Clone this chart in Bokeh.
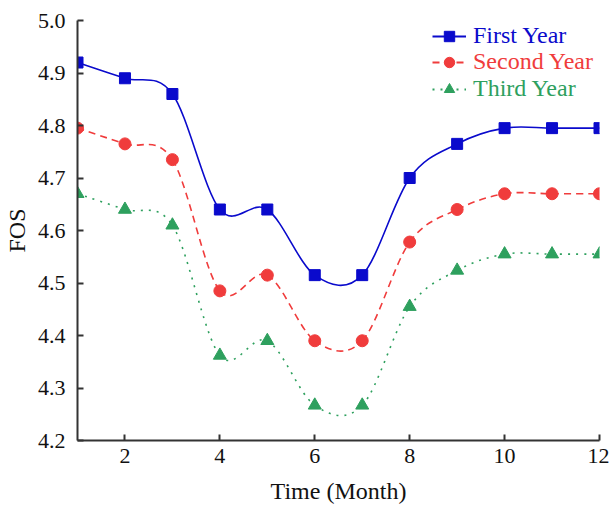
from bokeh.plotting import figure
from bokeh.models import Range1d, FixedTicker, Legend, LegendItem, NumeralTickFormatter
from bokeh.embed import file_html
from bokeh.resources import INLINE

months = [1, 2, 3, 4, 5, 6, 7, 8, 9, 10, 11, 12]
first_year = [4.92, 4.89, 4.86, 4.64, 4.64, 4.515, 4.515, 4.70, 4.765, 4.795, 4.795, 4.795]
second_year = [4.795, 4.765, 4.735, 4.485, 4.515, 4.39, 4.39, 4.578, 4.64, 4.67, 4.67, 4.67]
third_year = [4.67, 4.64, 4.61, 4.362, 4.39, 4.267, 4.267, 4.455, 4.524, 4.555, 4.555, 4.555]
series_names = ["First Year", "Second Year", "Third Year"]
x_ticks = [2, 4, 6, 8, 10, 12]
y_ticks = [4.2, 4.3, 4.4, 4.5, 4.6, 4.7, 4.8, 4.9, 5.0]

colors = ["#0A0ACC", "#F03C3C", "#2EA05E"]
dashes = ["solid", "7 5", "2 6"]
markers = ["square", "circle", "triangle"]
msizes = [11, 12, 13]

FONT = "Liberation Serif"

p = figure(width=609, height=512, output_backend="svg", toolbar_location=None,
           x_range=Range1d(1, 12), y_range=Range1d(4.2, 5.0),
           min_border_left=76, min_border_top=20, min_border_right=10, min_border_bottom=72)
p.outline_line_color = None
p.xgrid.visible = False
p.ygrid.visible = False

for ax in (p.xaxis[0], p.yaxis[0]):
    ax.axis_line_width = 2
    ax.axis_line_color = "#333333"
    ax.major_tick_line_color = "#333333"
    ax.major_tick_line_width = 2
    ax.major_tick_in = 6
    ax.major_tick_out = 0
    ax.minor_tick_line_color = None
    ax.major_label_text_font = FONT
    ax.major_label_text_font_size = "22px"
    ax.major_label_text_color = "#111111"
    ax.axis_label_text_font = FONT
    ax.axis_label_text_font_size = "24px"
    ax.axis_label_text_font_style = "normal"
    ax.axis_label_text_color = "#111111"

p.xaxis.ticker = FixedTicker(ticks=x_ticks)
p.yaxis.ticker = FixedTicker(ticks=y_ticks)
p.yaxis.formatter = NumeralTickFormatter(format="0.0")
p.xaxis.major_label_standoff = 8
p.yaxis.major_label_standoff = 12
p.xaxis.axis_label = "Time (Month)"
p.yaxis.axis_label = "FOS"
p.xaxis.axis_label_standoff = 12
p.yaxis.axis_label_standoff = 5


def bezier_segments(xs, ys):
    n = len(xs)
    out = dict(x0=[], y0=[], x1=[], y1=[], cx0=[], cy0=[], cx1=[], cy1=[])
    for i in range(n - 1):
        im = max(i - 1, 0)
        ip2 = min(i + 2, n - 1)
        out["x0"].append(xs[i]); out["y0"].append(ys[i])
        out["x1"].append(xs[i + 1]); out["y1"].append(ys[i + 1])
        out["cx0"].append(xs[i] + (xs[i + 1] - xs[im]) / 6.0)
        out["cy0"].append(ys[i] + (ys[i + 1] - ys[im]) / 6.0)
        out["cx1"].append(xs[i + 1] - (xs[ip2] - xs[i]) / 6.0)
        out["cy1"].append(ys[i + 1] - (ys[ip2] - ys[i]) / 6.0)
    return out


all_series = [first_year, second_year, third_year]
legend_rows_y = [391, 365, 338]
for k, ys in enumerate(all_series):
    seg = bezier_segments(months, ys)
    p.bezier(x0=seg["x0"], y0=seg["y0"], x1=seg["x1"], y1=seg["y1"],
             cx0=seg["cx0"], cy0=seg["cy0"], cx1=seg["cx1"], cy1=seg["cy1"],
             line_color=colors[k], line_width=1.6, line_dash=dashes[k])
    sc = p.scatter(months, ys, marker=markers[k], size=msizes[k],
                   fill_color=colors[k], line_color=colors[k])
    ln = p.line(months[:1], ys[:1], line_color=colors[k], line_width=2,
                line_dash=dashes[k])
    leg = Legend(items=[LegendItem(label=series_names[k], renderers=[ln, sc])],
                 location=(355, legend_rows_y[k]),
                 border_line_color=None, background_fill_alpha=0,
                 padding=0, margin=0, glyph_width=34, glyph_height=26,
                 label_standoff=7, label_text_font=FONT,
                 label_text_font_size="24px", label_text_color=colors[k])
    p.add_layout(leg, "center")

open("out.html", "w").write(file_html(p, INLINE))
